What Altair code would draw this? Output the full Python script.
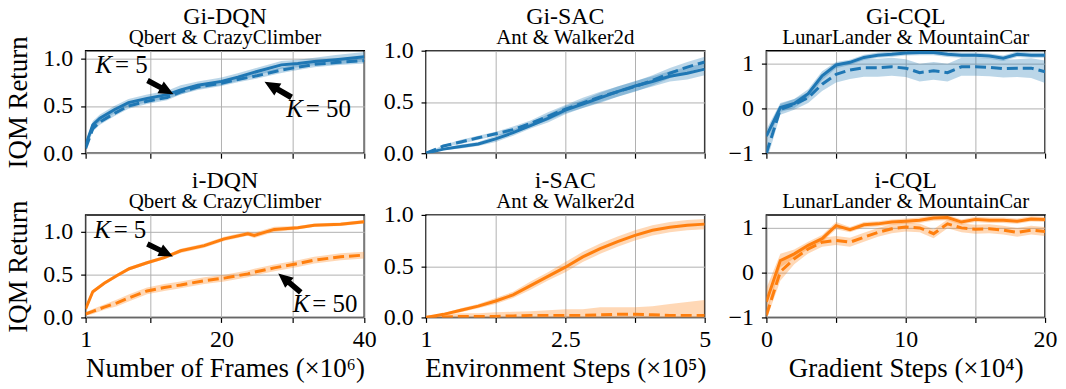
import altair as alt
import pandas as pd

FONT = "Liberation Serif"
BLUE = "#1f77b4"
ORANGE = "#ff7f0e"

# ---------------- data ----------------
# DQN (x in millions of frames)
gdqn_x = [1, 2, 3, 5, 7, 9.6, 12.4, 14.3, 16.7, 20, 22.3, 25, 28.4, 30.7, 33, 36, 40]
gdqn_k5 = [0.085, 0.30, 0.37, 0.46, 0.535, 0.58, 0.62, 0.67, 0.72, 0.76, 0.805, 0.865, 0.935, 0.95, 0.97, 0.99, 1.02]
gdqn_k5_sd = [0.03, 0.04, 0.04, 0.04, 0.04, 0.04, 0.04, 0.05, 0.04, 0.04, 0.04, 0.04, 0.04, 0.04, 0.04, 0.05, 0.05]
gdqn_k50 = [0.05, 0.26, 0.33, 0.42, 0.50, 0.55, 0.59, 0.65, 0.70, 0.74, 0.78, 0.82, 0.88, 0.91, 0.94, 0.96, 0.98]
gdqn_k50_sd = [0.03, 0.03, 0.03, 0.03, 0.03, 0.03, 0.03, 0.03, 0.03, 0.03, 0.03, 0.03, 0.03, 0.03, 0.03, 0.03, 0.03]

idqn_x = [1, 2, 3.6, 5.4, 7.1, 9.6, 12, 14.3, 17.6, 20.4, 23.7, 24.6, 27.4, 30.7, 33, 36.7, 40]
idqn_k5 = [0.10, 0.30, 0.40, 0.49, 0.57, 0.64, 0.70, 0.78, 0.84, 0.92, 0.98, 0.96, 1.03, 1.05, 1.08, 1.09, 1.12]
idqn_k5_sd = [0.02, 0.02, 0.02, 0.02, 0.02, 0.02, 0.02, 0.025, 0.025, 0.025, 0.025, 0.03, 0.03, 0.02, 0.02, 0.02, 0.02]
idqn_k50 = [0.04, 0.07, 0.12, 0.17, 0.23, 0.31, 0.35, 0.38, 0.43, 0.46, 0.51, 0.53, 0.58, 0.63, 0.67, 0.71, 0.73]
idqn_k50_sd = [0.02, 0.03, 0.03, 0.04, 0.04, 0.04, 0.04, 0.04, 0.04, 0.04, 0.04, 0.04, 0.04, 0.04, 0.04, 0.04, 0.04]

# SAC (x in 1e5 environment steps, axis labelled 1 / 2.5 / 5)
sac_x = [1, 1.25, 1.5, 1.75, 2, 2.25, 2.5, 2.75, 3, 3.25, 3.5, 3.75, 4, 4.25, 4.5, 4.75, 5]
gsac_k5 = [0.0, 0.04, 0.065, 0.09, 0.14, 0.20, 0.27, 0.34, 0.42, 0.48, 0.54, 0.60, 0.655, 0.70, 0.75, 0.78, 0.82]
gsac_k5_sd = [0.0, 0.01, 0.02, 0.02, 0.03, 0.03, 0.03, 0.04, 0.04, 0.04, 0.05, 0.05, 0.05, 0.05, 0.05, 0.06, 0.06]
gsac_k50 = [0.0, 0.07, 0.11, 0.15, 0.19, 0.23, 0.29, 0.36, 0.43, 0.49, 0.55, 0.60, 0.65, 0.71, 0.78, 0.84, 0.89]
gsac_k50_sd = [0.0, 0.01, 0.02, 0.02, 0.02, 0.03, 0.03, 0.04, 0.04, 0.05, 0.05, 0.05, 0.05, 0.05, 0.05, 0.05, 0.05]

isac_k5 = [0.0, 0.03, 0.07, 0.11, 0.16, 0.22, 0.31, 0.40, 0.49, 0.59, 0.67, 0.74, 0.80, 0.85, 0.88, 0.90, 0.91]
isac_k5_sd = [0.0, 0.01, 0.02, 0.02, 0.03, 0.03, 0.04, 0.04, 0.05, 0.05, 0.05, 0.05, 0.05, 0.05, 0.05, 0.05, 0.05]
isac_k50 = [0.0, 0.005, 0.01, 0.01, 0.01, 0.015, 0.02, 0.02, 0.02, 0.02, 0.025, 0.03, 0.03, 0.025, 0.02, 0.02, 0.02]
isac_k50_sd = [0.02, 0.025, 0.03, 0.03, 0.04, 0.04, 0.04, 0.05, 0.06, 0.06, 0.075, 0.07, 0.07, 0.085, 0.11, 0.13, 0.15]

# CQL (x in 1e4 gradient steps)
cql_x = list(range(0, 21))
gcql_k5 = [-0.62, 0.02, 0.11, 0.33, 0.73, 0.97, 1.03, 1.14, 1.19, 1.21, 1.24, 1.25, 1.25, 1.21, 1.19, 1.19, 1.17, 1.12, 1.21, 1.19, 1.19]
gcql_k5_sd = [0.15, 0.1, 0.1, 0.1, 0.1, 0.07, 0.06, 0.06, 0.06, 0.06, 0.06, 0.06, 0.06, 0.06, 0.06, 0.06, 0.06, 0.06, 0.06, 0.06, 0.06]
gcql_k50 = [-1.0, -0.02, 0.09, 0.24, 0.54, 0.76, 0.86, 0.91, 0.91, 0.93, 0.90, 0.80, 0.84, 0.80, 0.93, 0.93, 0.92, 0.89, 0.90, 0.90, 0.82]
gcql_k50_sd = [0.2, 0.12, 0.12, 0.12, 0.15, 0.18, 0.2, 0.2, 0.2, 0.2, 0.2, 0.2, 0.2, 0.2, 0.2, 0.2, 0.2, 0.2, 0.2, 0.22, 0.25]

icql_k5 = [-0.65, 0.27, 0.42, 0.61, 0.76, 1.05, 0.96, 1.07, 1.09, 1.13, 1.15, 1.17, 1.22, 1.23, 1.13, 1.19, 1.17, 1.17, 1.15, 1.20, 1.19]
icql_k5_sd = [0.3, 0.15, 0.1, 0.08, 0.08, 0.08, 0.06, 0.06, 0.06, 0.06, 0.06, 0.06, 0.06, 0.06, 0.06, 0.06, 0.06, 0.06, 0.06, 0.06, 0.06]
icql_k50 = [-0.95, 0.02, 0.31, 0.53, 0.68, 0.72, 0.68, 0.79, 0.90, 0.98, 1.02, 1.00, 0.87, 1.09, 1.00, 0.97, 0.98, 0.95, 0.90, 0.95, 0.92]
icql_k50_sd = [0.1, 0.2, 0.12, 0.1, 0.1, 0.1, 0.1, 0.1, 0.1, 0.1, 0.1, 0.1, 0.1, 0.1, 0.1, 0.1, 0.1, 0.1, 0.1, 0.1, 0.1]

PW, PH = 280, 103


def band_df(xs, ys, sd):
    return pd.DataFrame({"x": xs, "y": ys,
                         "lo": [a - b for a, b in zip(ys, sd)],
                         "hi": [a + b for a, b in zip(ys, sd)]})


def panel(title, subtitle, xs, k5, k5sd, k50, k50sd, color, xdom, ydom,
          xvals, xlabexpr, yvals, ylabexpr, bottom, xtitle, left, annots):
    d5 = band_df(xs, k5, k5sd)
    d50 = band_df(xs, k50, k50sd)
    xaxis = alt.Axis(values=xvals, labels=bottom, labelExpr=xlabexpr, labelPadding=5,
                     title=xtitle if bottom else None)
    yaxis = alt.Axis(values=yvals, labelExpr=ylabexpr, labelPadding=8, titlePadding=10,
                     title="IQM Return" if left else None)
    xs_ = alt.Scale(domain=xdom, nice=False, zero=False)
    ys_ = alt.Scale(domain=ydom, nice=False, zero=False)
    X = alt.X("x:Q", scale=xs_, axis=xaxis)
    layers = []
    for d in (d50, d5):
        layers.append(alt.Chart(d).mark_area(color=color, opacity=0.3, clip=True).encode(
            x=X, y=alt.Y("lo:Q", scale=ys_, axis=yaxis), y2="hi:Q"))
    layers.append(alt.Chart(d50).mark_line(color=color, strokeWidth=3, strokeDash=[11, 5], clip=True).encode(
        x=X, y=alt.Y("y:Q", scale=ys_, axis=yaxis)))
    layers.append(alt.Chart(d5).mark_line(color=color, strokeWidth=3, clip=True).encode(
        x=X, y=alt.Y("y:Q", scale=ys_, axis=yaxis)))
    # invisible helper so every panel has the same top bound (titles line up)
    layers.append(alt.Chart(pd.DataFrame({"a": [0]})).mark_rule(opacity=0).encode(
        x=alt.value(0), x2=alt.value(PW), y=alt.value(-17)))
    if annots:
        tdf = pd.DataFrame(annots["text"])
        adf = pd.DataFrame(annots["arrow"])
        layers.append(alt.Chart(tdf).mark_text(text="K", font=FONT, fontSize=25, fontStyle="italic",
                                               align="right", baseline="alphabetic").encode(
            x=X, y=alt.Y("y:Q", scale=ys_, axis=yaxis)))
        layers.append(alt.Chart(tdf).mark_text(font=FONT, fontSize=25, align="left", dx=3,
                                               baseline="alphabetic").encode(
            x=X, y=alt.Y("y:Q", scale=ys_, axis=yaxis), text="label:N"))
        layers.append(alt.Chart(adf).mark_point(shape="arrow", filled=True, color="black", opacity=1,
                                                stroke="black", strokeWidth=1.8).encode(
            x=X, y=alt.Y("y:Q", scale=ys_, axis=yaxis),
            angle=alt.Angle("ang:Q", scale=None), size=alt.Size("sz:Q", scale=None)))
    return alt.layer(*layers).properties(
        width=PW, height=PH,
        title=alt.TitleParams(text=title, subtitle=subtitle, font=FONT, subtitleFont=FONT,
                              fontSize=24, subtitleFontSize=21, fontWeight="normal",
                              subtitleFontWeight="normal", color="black", subtitleColor="black",
                              subtitlePadding=-2, offset=-14, anchor="middle", frame="group"))


dqn_lab = "datum.value == 10 || datum.value == 30 ? '' : datum.label"
sac_lab = "datum.value == 3 ? '2.5' : (datum.value == 1 || datum.value == 5 ? datum.label : '')"
cql_lab = "datum.value == 5 || datum.value == 15 ? '' : datum.label"
y1_lab = "format(datum.value, '.1f')"
y3_lab = "datum.value < 0 ? '\u2212' + format(-datum.value, 'd') : format(datum.value, 'd')"

ann_g = {"text": {"x": [4.7, 31.4], "y": [0.85, 0.38], "label": ["= 5", "= 50"]},
         "arrow": {"x": [11.4, 28.0], "y": [0.70, 0.67], "ang": [118, 300], "sz": [700, 800]}}
ann_i = {"text": {"x": [4.5, 32.3], "y": [0.93, 0.066], "label": ["= 5", "= 50"]},
         "arrow": {"x": [11.35, 29.6], "y": [0.79, 0.40], "ang": [116, 310], "sz": [650, 700]}}

p1 = panel("Gi-DQN", "Qbert & CrazyClimber", gdqn_x, gdqn_k5, gdqn_k5_sd, gdqn_k50, gdqn_k50_sd, BLUE,
           [1, 40], [0, 1.085], [1, 10, 20, 30, 40], dqn_lab, [0, 0.5, 1.0], y1_lab, False, "", True, ann_g)
p2 = panel("Gi-SAC", "Ant & Walker2d", sac_x, gsac_k5, gsac_k5_sd, gsac_k50, gsac_k50_sd, BLUE,
           [1, 5], [0, 1.0], [1, 2, 3, 4, 5], sac_lab, [0, 0.5, 1.0], y1_lab, False, "", False, None)
p3 = panel("Gi-CQL", "LunarLander & MountainCar", cql_x, gcql_k5, gcql_k5_sd, gcql_k50, gcql_k50_sd, BLUE,
           [0, 20], [-1, 1.29], [0, 5, 10, 15, 20], cql_lab, [-1, 0, 1], y3_lab, False, "", False, None)
p4 = panel("i-DQN", "Qbert & CrazyClimber", idqn_x, idqn_k5, idqn_k5_sd, idqn_k50, idqn_k50_sd, ORANGE,
           [1, 40], [0, 1.2], [1, 10, 20, 30, 40], dqn_lab, [0, 0.5, 1.0], y1_lab, True,
           "Number of Frames (\u00d710\u2076)", True, ann_i)
p5 = panel("i-SAC", "Ant & Walker2d", sac_x, isac_k5, isac_k5_sd, isac_k50, isac_k50_sd, ORANGE,
           [1, 5], [0, 1.0], [1, 2, 3, 4, 5], sac_lab, [0, 0.5, 1.0], y1_lab, True,
           "Environment Steps (\u00d710\u2075)", False, None)
p6 = panel("i-CQL", "LunarLander & MountainCar", cql_x, icql_k5, icql_k5_sd, icql_k50, icql_k50_sd, ORANGE,
           [0, 20], [-1, 1.29], [0, 5, 10, 15, 20], cql_lab, [-1, 0, 1], y3_lab, True,
           "Gradient Steps (\u00d710\u2074)", False, None)

chart = alt.concat(p1, p2, p3, p4, p5, p6, columns=3, spacing=62, bounds="flush").properties(
    padding={"left": -4, "top": -5, "right": 0, "bottom": 0}
).configure_view(
    stroke="black", strokeWidth=1.5
).configure_axis(
    labelFont=FONT, labelFontSize=24, labelColor="black", labelFlush=False, labelOverlap=False,
    titleFont=FONT, titleFontSize=27, titleColor="black", titleFontWeight="normal",
    tickSize=5, tickColor="black", tickWidth=1.2, domain=False,
    gridColor="#b0b0b0", gridWidth=1, gridOpacity=1, titlePadding=4
)

chart.save("out.html", embed_options={"renderer": "svg", "actions": False})
